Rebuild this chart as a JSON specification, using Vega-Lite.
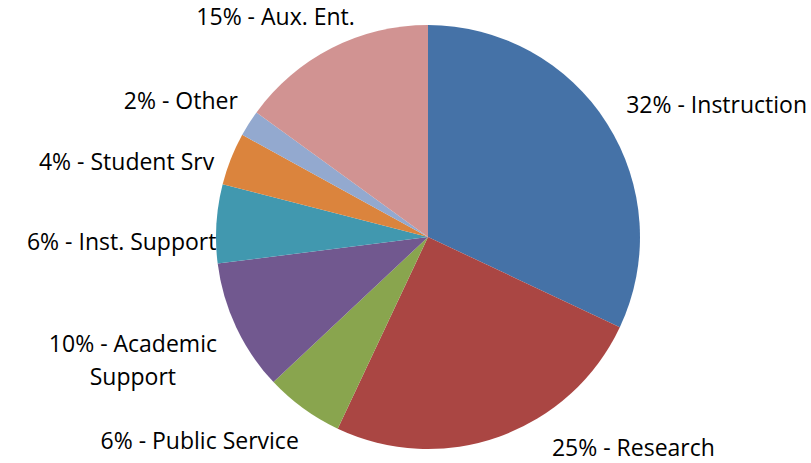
{
  "$schema": "https://vega.github.io/schema/vega-lite/v6.json",
  "width": 424,
  "height": 424,
  "autosize": "none",
  "padding": {"left": 216, "top": 25, "right": 171, "bottom": 14},
  "background": "white",
  "config": {"view": {"stroke": null}, "text": {"font": "Open Sans", "fontSize": 23, "color": "#000000", "baseline": "middle", "radius": 230}},
  "data": {
    "values": [
      {"order": 1, "category": "Instruction", "pct": 32, "label": "32% - Instruction"},
      {"order": 2, "category": "Research", "pct": 25, "label": "25% - Research"},
      {"order": 3, "category": "Public Service", "pct": 6, "label": "6% - Public Service"},
      {"order": 4, "category": "Academic Support", "pct": 10, "label": "10% - Academic\nSupport"},
      {"order": 5, "category": "Inst. Support", "pct": 6, "label": "6% - Inst. Support"},
      {"order": 6, "category": "Student Srv", "pct": 4, "label": "4% - Student Srv"},
      {"order": 7, "category": "Other", "pct": 2, "label": "2% - Other"},
      {"order": 8, "category": "Aux. Ent.", "pct": 15, "label": "15% - Aux. Ent."}
    ]
  },
  "encoding": {
    "theta": {"field": "pct", "type": "quantitative", "stack": true},
    "order": {"field": "order", "type": "quantitative"}
  },
  "layer": [
    {
      "mark": {"type": "arc", "outerRadius": 212},
      "encoding": {
        "color": {
          "field": "category",
          "type": "nominal",
          "scale": {
            "domain": ["Instruction", "Research", "Public Service", "Academic Support", "Inst. Support", "Student Srv", "Other", "Aux. Ent."],
            "range": ["#4572A7", "#AA4643", "#89A54E", "#71588F", "#4198AF", "#DB843D", "#93A9CF", "#D19392"]
          },
          "legend": null
        }
      }
    },
    {
      "mark": {"type": "text", "radius": 230, "align": "left", "dx": 4, "dy": -8},
      "encoding": {"text": {"condition": {"test": "datum.category === 'Instruction'", "field": "label"}, "value": ""}}
    },
    {
      "mark": {"type": "text", "radius": 230, "align": "left", "dx": 46, "dy": -4},
      "encoding": {"text": {"condition": {"test": "datum.category === 'Research'", "field": "label"}, "value": ""}}
    },
    {
      "mark": {"type": "text", "radius": 230, "align": "right", "dx": 6, "dy": 19},
      "encoding": {"text": {"condition": {"test": "datum.category === 'Public Service'", "field": "label"}, "value": ""}}
    },
    {
      "mark": {"type": "text", "radius": 230, "align": "center", "lineBreak": "\n", "lineHeight": 33, "dx": -87, "dy": 10},
      "encoding": {"text": {"condition": {"test": "datum.category === 'Academic Support'", "field": "label"}, "value": ""}}
    },
    {
      "mark": {"type": "text", "radius": 230, "align": "right", "dx": 18, "dy": 20},
      "encoding": {"text": {"condition": {"test": "datum.category === 'Inst. Support'", "field": "label"}, "value": ""}}
    },
    {
      "mark": {"type": "text", "radius": 230, "align": "right", "dx": 0, "dy": 11},
      "encoding": {"text": {"condition": {"test": "datum.category === 'Student Srv'", "field": "label"}, "value": ""}}
    },
    {
      "mark": {"type": "text", "radius": 230, "align": "right", "dx": 4, "dy": -12},
      "encoding": {"text": {"condition": {"test": "datum.category === 'Other'", "field": "label"}, "value": ""}}
    },
    {
      "mark": {"type": "text", "radius": 230, "align": "center", "dx": -48, "dy": -14},
      "encoding": {"text": {"condition": {"test": "datum.category === 'Aux. Ent.'", "field": "label"}, "value": ""}}
    }
  ]
}
